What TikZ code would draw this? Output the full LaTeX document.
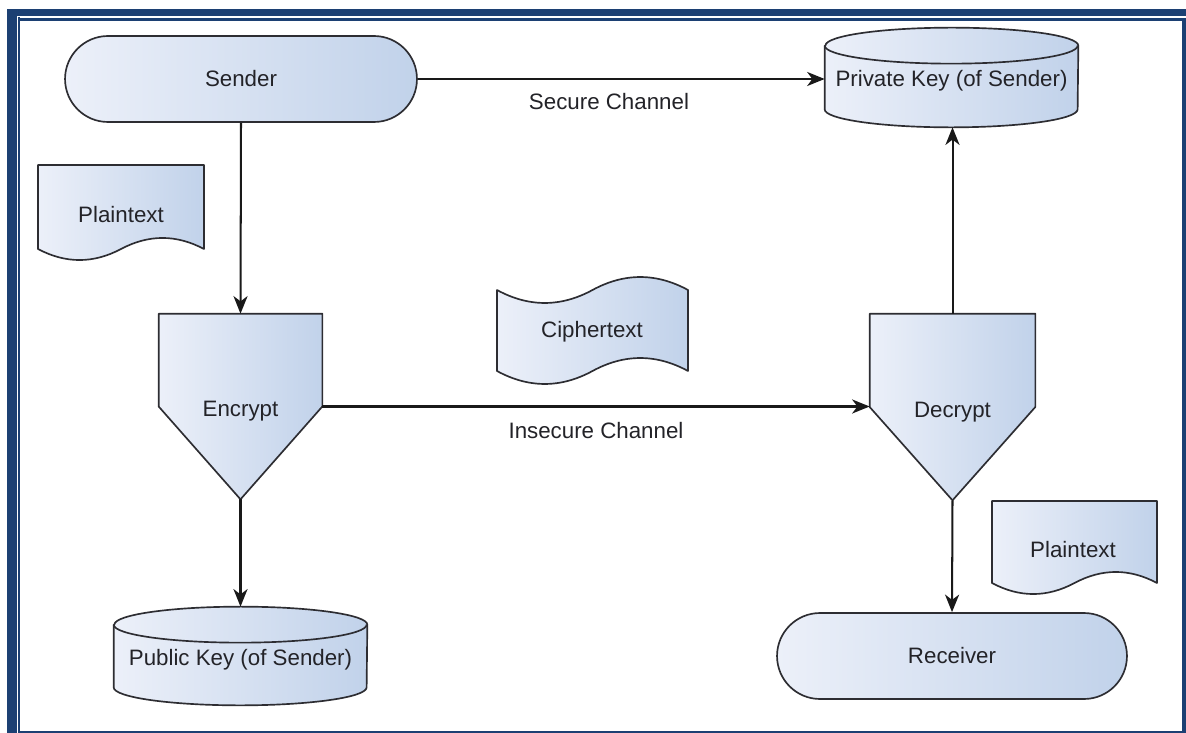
\documentclass[tikz,border=0pt]{standalone}
\usepackage{fontspec}
\setmainfont{Liberation Sans}
\usetikzlibrary{shapes.misc,arrows.meta,calc}
\pgfdeclarelayer{backdrop}
\pgfdeclarelayer{background}
\pgfsetlayers{backdrop,background,main}

\definecolor{frameblue}{RGB}{28,64,115}
\definecolor{shapeline}{RGB}{45,45,50}
\definecolor{fillL}{RGB}{236,240,249}
\definecolor{fillR}{RGB}{193,210,234}
\definecolor{txt}{RGB}{35,35,40}
\newcommand\lblfont{\fontsize{12.7}{15}\selectfont}

\tikzset{
  px/.style={x=0.02cm,y=-0.02cm},
  shapefill/.style={draw=shapeline, line width=0.95pt, left color=fillL, right color=fillR, line join=round},
  terminal/.style={rounded rectangle, shapefill, text=txt, font=\lblfont, inner sep=0pt},
  holder/.style={inner sep=0pt, text=txt, font=\lblfont},
  arr/.style={-{Stealth[length=10pt,width=8pt,inset=3pt]}, line width=1.15pt, draw=black!90},
}

\begin{document}
\begin{tikzpicture}[px]
\useasboundingbox (0,0) rectangle (1186,733);

\begin{pgfonlayer}{backdrop}
  \fill[white] (0,0) rectangle (1186,733);
  % double frame
  \fill[frameblue] (7,9) rectangle (16.5,733);
  \fill[frameblue] (7,9) rectangle (1186,16.5);
  \fill[frameblue] (17.5,17.5) rectangle (19.7,733);
  \fill[frameblue] (17.5,18.2) rectangle (1186,20.6);
  \fill[frameblue] (1182,18.2) rectangle (1186,733);
  \fill[frameblue] (17.5,730.7) rectangle (1186,733);
\end{pgfonlayer}

% terminals and process / storage blocks
\node[terminal, minimum width=7.04cm, minimum height=1.72cm] (sender) at (241,79) {Sender};
\node[terminal, minimum width=7.0cm, minimum height=1.72cm] (receiver) at (952,656) {Receiver};
\node[holder, minimum width=3.26cm, minimum height=3.7cm, text height=14.5pt, text depth=2.7pt] (encrypt) at (240.5,406.5) {Encrypt};
\node[holder, minimum width=3.3cm, minimum height=3.72cm, text height=14.5pt, text depth=2.7pt] (decrypt) at (952.5,407) {Decrypt};
\node[holder, minimum width=5.06cm, minimum height=1.98cm, text height=13.5pt, text depth=2.8pt] (privkey) at (951.5,77.5) {Private Key (of Sender)};
\node[holder, minimum width=5.06cm, minimum height=1.96cm, text height=13.5pt, text depth=2.8pt] (pubkey) at (240.5,656) {Public Key (of Sender)};

\begin{pgfonlayer}{background}
  % pentagon-shaped process blocks
  \path[shapefill] (encrypt.north west) -- (encrypt.north east) -- (encrypt.east)
       -- (encrypt.south) -- (encrypt.west) -- cycle;
  \path[shapefill] (decrypt.north west) -- (decrypt.north east) -- (decrypt.east)
       -- (decrypt.south) -- (decrypt.west) -- cycle;
  % key stores as cylinders
  \foreach \k in {privkey,pubkey}{
    \path[shapefill] ([yshift=-0.36cm]\k.north west) -- ([yshift=0.36cm]\k.south west)
         arc[start angle=180, end angle=360, x radius=2.53cm, y radius=0.36cm]
         -- ([yshift=-0.36cm]\k.north east)
         arc[start angle=0, end angle=180, x radius=2.53cm, y radius=0.36cm] -- cycle;
    \draw[shapeline, line width=0.95pt] ([yshift=-0.36cm]\k.north west)
         arc[start angle=180, end angle=360, x radius=2.53cm, y radius=0.36cm];
  }
\end{pgfonlayer}

% documents
\path[shapefill] (38,165) -- (204,165) -- (204,249)
     .. controls (176.3,234.3) and (148.7,234.3) .. (121,249)
     .. controls (93.3,263.7) and (65.7,263.7) .. (38,249) -- cycle;
\node[holder] (plainA) at (121,215) {Plaintext};

\path[shapefill] (992,501) -- (1157,501) -- (1157,583)
     .. controls (1129.5,568.3) and (1102,568.3) .. (1074.5,583)
     .. controls (1047,597.7) and (1019.5,597.7) .. (992,583) -- cycle;
\node[holder] (plainB) at (1073,550) {Plaintext};

\path[shapefill] (497,290)
     .. controls (528.8,307.3) and (560.7,307.3) .. (592.5,290)
     .. controls (624.3,272.7) and (656.2,272.7) .. (688,290)
     -- (688,371)
     .. controls (656.2,353.7) and (624.3,353.7) .. (592.5,371)
     .. controls (560.7,388.3) and (528.8,388.3) .. (497,371) -- cycle;
\node[holder] (cipher) at (592,332) {Ciphertext};

% connectors
\draw[arr] (sender.east) -- (sender.east -| privkey.west);
\draw[arr] (sender.south) -- (encrypt.north);
\draw[arr] (encrypt.east) -- (encrypt.east -| decrypt.west);
\draw[arr] (encrypt.south) -- (pubkey.north);
\draw[arr] (decrypt.north) -- (decrypt.north |- privkey.south);
\draw[arr] (decrypt.south) -- (receiver.north);

% channel labels
\node[holder] (secure) at (609,102) {Secure Channel};
\node[holder] (insecure) at (596,431) {Insecure Channel};
\end{tikzpicture}
\end{document}
